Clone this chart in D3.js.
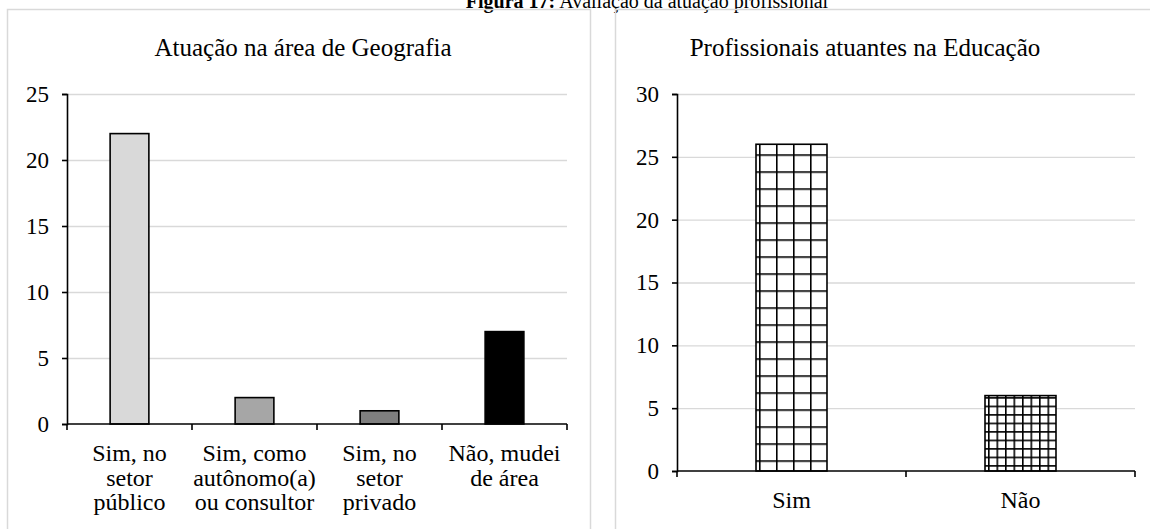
<!DOCTYPE html>
<html><head><meta charset="utf-8">
<script src="https://cdn.jsdelivr.net/npm/d3@7/dist/d3.min.js"></script>
<style>
html,body{margin:0;padding:0;background:#fff;}
svg{display:block;font-family:"Liberation Serif","Times New Roman",serif;}
</style></head>
<body>
<svg id="chart" width="1150" height="529"></svg>
<script>
// ---- Data ----
const figureTitleBold = "Figura 17:";
const figureTitleRest = " Avaliação da atuação profissional";

const leftTitle = "Atuação na área de Geografia";
const leftCategories = [
  ["Sim, no", "setor", "público"],
  ["Sim, como", "autônomo(a)", "ou consultor"],
  ["Sim, no", "setor", "privado"],
  ["Não, mudei", "de área"]
];
const leftValues = [22, 2, 1, 7];
const leftColors = ["#d9d9d9", "#a6a6a6", "#7f7f7f", "#000000"];
const leftTicks = [0, 5, 10, 15, 20, 25];

const rightTitle = "Profissionais atuantes na Educação";
const rightCategories = ["Sim", "Não"];
const rightValues = [26, 6];
const rightPatternSizes = [17, 8.5];
const rightTicks = [0, 5, 10, 15, 20, 25, 30];

// ---- Drawing ----
const svg = d3.select("#chart");
const defs = svg.append("defs");

// figure caption (clipped at top)
const cap = svg.append("text").attr("x", 647).attr("y", 8)
  .attr("text-anchor", "middle").attr("font-size", 20).attr("fill", "#000");
cap.append("tspan").attr("font-weight", "bold").text(figureTitleBold);
cap.append("tspan").text(figureTitleRest);

// panel borders
svg.append("rect").attr("x", 7.5).attr("y", 9.5).attr("width", 583).attr("height", 600)
  .attr("fill", "none").attr("stroke", "#d9d9d9").attr("stroke-width", 1.5);
svg.append("rect").attr("x", 615.5).attr("y", 9.5).attr("width", 600).attr("height", 600)
  .attr("fill", "none").attr("stroke", "#d9d9d9").attr("stroke-width", 1.5);

function drawPanel(cfg) {
  const g = svg.append("g");
  const x = d3.scaleBand().domain(d3.range(cfg.values.length))
    .range([cfg.x0, cfg.x1]).paddingInner(0.69).paddingOuter(0.345);
  const y = d3.scaleLinear().domain([0, cfg.max]).range([cfg.y0, cfg.y1]);

  // title
  g.append("text").attr("x", cfg.titleX).attr("y", 56).attr("text-anchor", "middle")
    .attr("font-size", 25).attr("fill", "#000").text(cfg.title);

  // gridlines
  g.selectAll(".grid").data(cfg.ticks.filter(t => t > 0)).join("line")
    .attr("x1", cfg.x0).attr("x2", cfg.x1)
    .attr("y1", d => y(d) + 0.5).attr("y2", d => y(d) + 0.5)
    .attr("stroke", "#d9d9d9").attr("stroke-width", 1.3);

  // bars
  g.selectAll(".bar").data(cfg.values).join("rect")
    .attr("x", (d, i) => x(i)).attr("y", d => y(d))
    .attr("width", x.bandwidth()).attr("height", d => y(0) - y(d))
    .attr("fill", (d, i) => cfg.fill(d, i, x, y))
    .attr("stroke", "#000").attr("stroke-width", 1.6);

  // y axis
  const yAxis = d3.axisLeft(y).tickValues(cfg.ticks).tickSize(5).tickPadding(13)
    .tickFormat(d3.format("d"));
  const ya = g.append("g").attr("transform", `translate(${cfg.x0},0)`).call(yAxis);
  ya.select(".domain").attr("stroke", "#000").attr("stroke-width", 1.6);
  ya.selectAll(".tick line").attr("stroke", "#000").attr("stroke-width", 1.6);
  ya.selectAll(".tick text").attr("font-size", 23).attr("fill", "#000")
    .attr("font-family", "Liberation Serif, serif");

  // x axis
  g.append("line").attr("x1", cfg.x0).attr("x2", cfg.x1)
    .attr("y1", y(0)).attr("y2", y(0)).attr("stroke", "#000").attr("stroke-width", 1.6);
  const step = x.step();
  const bounds = d3.range(cfg.values.length + 1).map(i => cfg.x0 + i * step);
  g.selectAll(".xt").data(bounds).join("line")
    .attr("x1", d => d).attr("x2", d => d)
    .attr("y1", y(0)).attr("y2", y(0) + 6)
    .attr("stroke", "#000").attr("stroke-width", 1.6);

  // category labels
  cfg.categories.forEach((lines, i) => {
    const cx = x(i) + x.bandwidth() / 2;
    const t = g.append("text").attr("text-anchor", "middle").attr("font-size", 24)
      .attr("fill", "#000");
    [].concat(lines).forEach((ln, k) => {
      t.append("tspan").attr("x", cx).attr("y", y(0) + 37 + k * 24.5).text(ln);
    });
  });
}

drawPanel({
  title: leftTitle, titleX: 303,
  categories: leftCategories, values: leftValues, ticks: leftTicks, max: 25,
  x0: 67, x1: 567, y0: 424, y1: 94,
  fill: (d, i) => leftColors[i]
});

drawPanel({
  title: rightTitle, titleX: 865,
  categories: rightCategories, values: rightValues, ticks: rightTicks, max: 30,
  x0: 677, x1: 1135, y0: 471, y1: 94,
  fill: (d, i, x, y) => {
    const s = rightPatternSizes[i];
    const id = "grid" + i;
    const p = defs.append("pattern").attr("id", id).attr("patternUnits", "userSpaceOnUse")
      .attr("width", s).attr("height", s)
      .attr("x", x(i) + 3).attr("y", y(d) + 10);
    p.append("rect").attr("width", s).attr("height", s).attr("fill", "#fff");
    p.append("line").attr("x1", 0).attr("x2", s).attr("y1", 0).attr("y2", 0)
      .attr("stroke", "#000").attr("stroke-width", 3.2);
    p.append("line").attr("x1", 0).attr("x2", 0).attr("y1", 0).attr("y2", s)
      .attr("stroke", "#000").attr("stroke-width", 3.2);
    return `url(#${id})`;
  }
});
</script>
</body></html>
